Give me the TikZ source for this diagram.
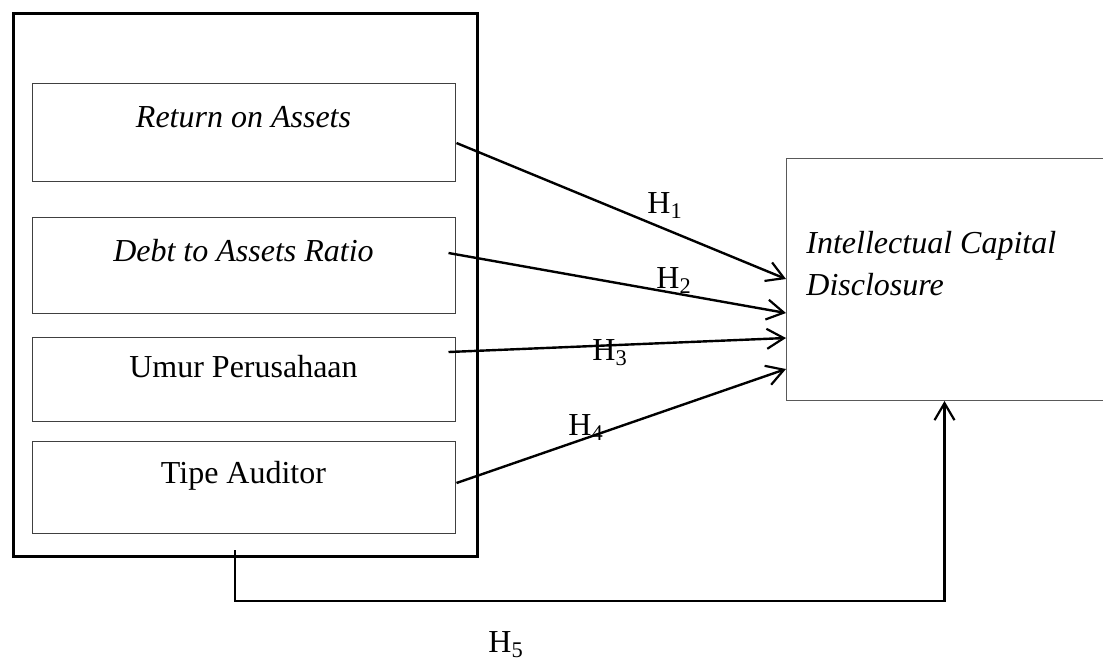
\documentclass[tikz,border=0pt]{standalone}
\usepackage{fontspec}
\setmainfont{Liberation Serif}
\usetikzlibrary{arrows.meta,calc}

\tikzset{
  varbox/.style={draw=black!75, line width=0.5pt, minimum width=211.5pt, inner sep=0pt, anchor=north, text height=22pt},
  arr/.style={line width=1.2pt, -{Straight Barb[length=8.5pt,width=10pt,line width=1.1pt]}},
  hlabel/.style={anchor=base west, inner sep=0pt},
}

\begin{document}
\begin{tikzpicture}[x=0.5pt,y=-0.5pt,font=\fontsize{16}{21}\selectfont]
\useasboundingbox (0,0) rectangle (1103,661);

% left block with the four variables
\node[draw, line width=1.5pt, minimum width=232pt, minimum height=271.5pt, inner sep=0pt, anchor=north west] (outer) at (12,12) {};
\node[varbox, text depth=27pt] (roa) at (243.5,83) {\textit{Return on Assets}};
\node[varbox, text depth=26pt] (dar) at (243.5,217) {\textit{Debt to Assets Ratio}};
\node[varbox, text height=20pt, text depth=22pt] (umur) at (243.5,337) {Umur Perusahaan};
\node[varbox, text height=21pt, text depth=25pt] (tipe) at (243.5,441) {Tipe Auditor};

% dependent variable
\node[draw=black!65, line width=0.5pt, minimum width=160pt, minimum height=121pt, inner sep=0pt, anchor=north west] (icd) at (786,158) {};
\node[anchor=base west, inner sep=0pt, align=left] (icdtext) at (806,295) {\textit{Intellectual Capital}\\\textit{Disclosure}};

% partial hypotheses
\foreach \n/\sx/\sy/\ey in {roa/1/60/121, dar/-7/36/155, umur/-7/15/180, tipe/1/42/211}
{
  \draw[arr] ($(\n.north east)+(\sx,\sy)$) -- ($(icd.north west)+(0,\ey)$);
}
\node[hlabel] (h1) at (647,213) {H\textsubscript{1}};
\node[hlabel] (h2) at (656,288) {H\textsubscript{2}};
\node[hlabel] (h3) at (592,360) {H\textsubscript{3}};
\node[hlabel] (h4) at (568,435) {H\textsubscript{4}};

% simultaneous hypothesis
\coordinate (tie) at ($(outer.south west)+(223,-8)$);
\draw[arr] (tie) -- ++(0,51) -| ([xshift=-1pt]icd.south);
\node[hlabel] (h5) at (488,652) {H\textsubscript{5}};
\end{tikzpicture}
\end{document}
